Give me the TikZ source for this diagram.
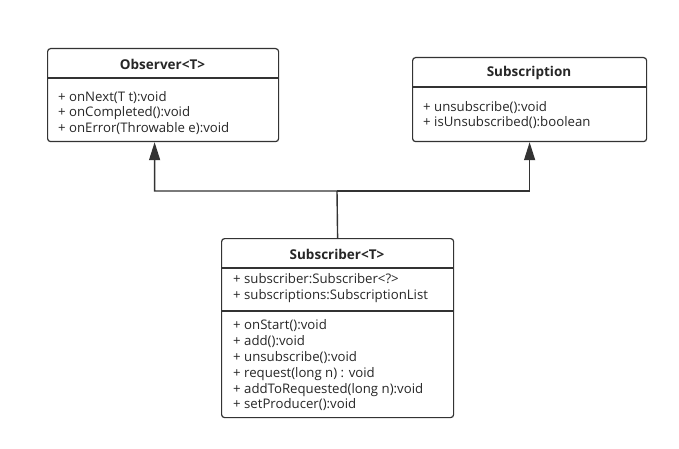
\documentclass[tikz,border=0pt]{standalone}
\usepackage{fontspec}
\setmainfont{Open Sans}
\usetikzlibrary{arrows.meta}

\tikzset{
  umlbox/.style={draw=black!80, line width=1.2pt, rounded corners=3pt, anchor=north west, inner sep=0pt},
  umltitle/.style={font=\fontsize{13.5}{16}\selectfont\bfseries, text=black!85},
  umlitems/.style={anchor=west, align=left, inner sep=0pt, font=\fontsize{13.2}{15.8}\selectfont, text=black!85},
  umlrule/.style={draw=black!80, line width=1.2pt},
  inherit/.style={-{Triangle[length=18pt, width=11pt]}, draw=black!80, line width=1.4pt}
}

\begin{document}
\begin{tikzpicture}[x=1pt, y=-1pt]
    \useasboundingbox (0,0) rectangle (679,449);

    % Observer
    \node[umlbox, minimum width=231pt, minimum height=93pt] (observer) at (47,48) {};
    \node[umltitle] (observertitle) at (162.5,64) {Observer<T>};
    \draw[umlrule] (47,78) -- (278,78);
    \node[umlitems] (observerops) at (58,113) {+ onNext(T t):void\\+ onCompleted():void\\+ onError(Throwable e):void};

    % Subscription
    \node[umlbox, minimum width=234pt, minimum height=84pt] (subscription) at (412,57) {};
    \node[umltitle] (subscriptiontitle) at (529,73) {Subscription};
    \draw[umlrule] (412,87) -- (646,87);
    \node[umlitems] (subscriptionops) at (423,115) {+ unsubscribe():void\\+ isUnsubscribed():boolean};

    % Subscriber
    \node[umlbox, minimum width=232pt, minimum height=179pt] (subscriber) at (221,238) {};
    \node[umltitle] (subscribertitle) at (337,254) {Subscriber<T>};
    \draw[umlrule] (221,268) -- (453,268);
    \node[umlitems] (subscriberattrs) at (233,288) {+ subscriber:Subscriber<?>\\+ subscriptions:SubscriptionList};
    \draw[umlrule] (221,311) -- (453,311);
    \node[umlitems] (subscriberops) at (233,365.5) {+ onStart():void\\+ add():void\\+ unsubscribe():void\\+ request(long n) : void\\+ addToRequested(long n):void\\+ setProducer():void};

    % Arrows
    \coordinate (junction) at (337,191);
    \draw[inherit] (subscriber.north) -- (junction) -| ([xshift=-8.5pt]observer.south);
    \draw[inherit] (junction) -| (subscription.south);
\end{tikzpicture}
\end{document}
